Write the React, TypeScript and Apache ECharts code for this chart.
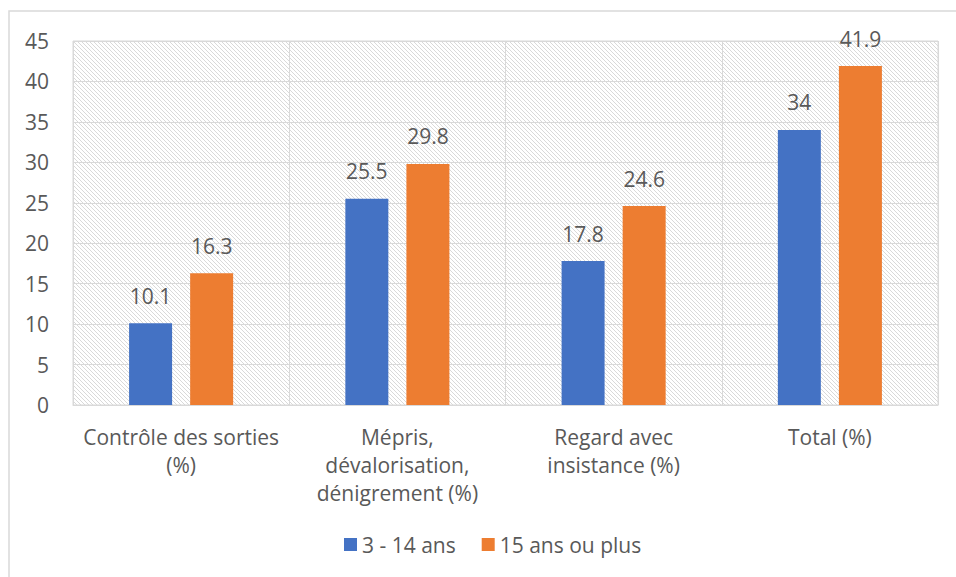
import React, { useEffect, useRef } from "react";
import * as echarts from "echarts";

const categories = [
  "Contrôle des sorties\n(%)",
  "Mépris,\ndévalorisation,\ndénigrement (%)",
  "Regard avec\ninsistance (%)",
  "Total (%)",
];
const seriesNames = ["3 - 14 ans", "15 ans ou plus"];
const young = [10.1, 25.5, 17.8, 34];
const older = [16.3, 29.8, 24.6, 41.9];
const colors = ["#4472C4", "#ED7D31"];

const FONT = "'Open Sans', sans-serif";
const TXT = "#595959";
const FS = 21;

function makePattern(): HTMLCanvasElement {
  const c = document.createElement("canvas");
  c.width = 8;
  c.height = 8;
  const ctx = c.getContext("2d")!;
  ctx.fillStyle = "#ffffff";
  ctx.fillRect(0, 0, 8, 8);
  ctx.fillStyle = "#d9d9d9";
  for (let y = 0; y < 8; y++) {
    for (let x = 0; x < 8; x++) {
      if ((((x - y) % 4) + 4) % 4 === 0) ctx.fillRect(x, y, 1, 1);
    }
  }
  return c;
}

export default function App() {
  const ref = useRef<HTMLDivElement>(null);
  useEffect(() => {
    document.body.style.margin = "0";
    const chart = echarts.init(ref.current!, null, { renderer: "svg" });
    const pattern = { image: makePattern(), repeat: "repeat" } as any;
    const labelStyle = {
      show: true,
      position: "top" as const,
      distance: 17,
      color: TXT,
      fontFamily: FONT,
      fontSize: FS,
    };
    chart.setOption({
      animation: false,
      backgroundColor: "#ffffff",
      textStyle: { fontFamily: FONT },
      graphic: [
        {
          type: "rect",
          shape: { x: 9, y: 11, width: 1000, height: 1000 },
          style: { fill: "none", stroke: "#d9d9d9", lineWidth: 1.5 },
          silent: true,
          z: -10,
        },
      ],
      grid: {
        left: 73,
        right: 18,
        top: 41,
        bottom: 172,
        show: true,
        backgroundColor: pattern,
        borderColor: "#d9d9d9",
        borderWidth: 1,
      },
      legend: {
        bottom: 17,
        left: 339,
        itemWidth: 13,
        itemHeight: 13,
        itemGap: 26,
        icon: "rect",
        textStyle: { color: TXT, fontFamily: FONT, fontSize: FS },
        data: seriesNames,
      },
      xAxis: {
        type: "category",
        data: categories,
        axisLine: { show: true, lineStyle: { color: "#d9d9d9", width: 1 } },
        axisTick: { show: false },
        splitLine: { show: true, interval: 0, lineStyle: { color: "#d9d9d9", width: 1 } },
        axisLabel: {
          interval: 0,
          color: TXT,
          fontFamily: FONT,
          fontSize: FS,
          lineHeight: 28,
          margin: 18,
          align: "center",
        },
      },
      yAxis: {
        type: "value",
        min: 0,
        max: 45,
        interval: 5,
        axisLine: { show: false },
        axisTick: { show: false },
        splitLine: { show: true, lineStyle: { color: "#d9d9d9", width: 1 } },
        axisLabel: { color: TXT, fontFamily: FONT, fontSize: FS, margin: 24 },
      },
      series: [
        {
          name: seriesNames[0],
          type: "bar",
          data: young,
          barWidth: 43,
          barGap: "42%",
          itemStyle: { color: colors[0] },
          label: labelStyle,
        },
        {
          name: seriesNames[1],
          type: "bar",
          data: older,
          barWidth: 43,
          barGap: "42%",
          itemStyle: { color: colors[1] },
          label: labelStyle,
        },
      ],
    });
    return () => chart.dispose();
  }, []);
  return <div ref={ref} style={{ width: 956, height: 577 }} />;
}
